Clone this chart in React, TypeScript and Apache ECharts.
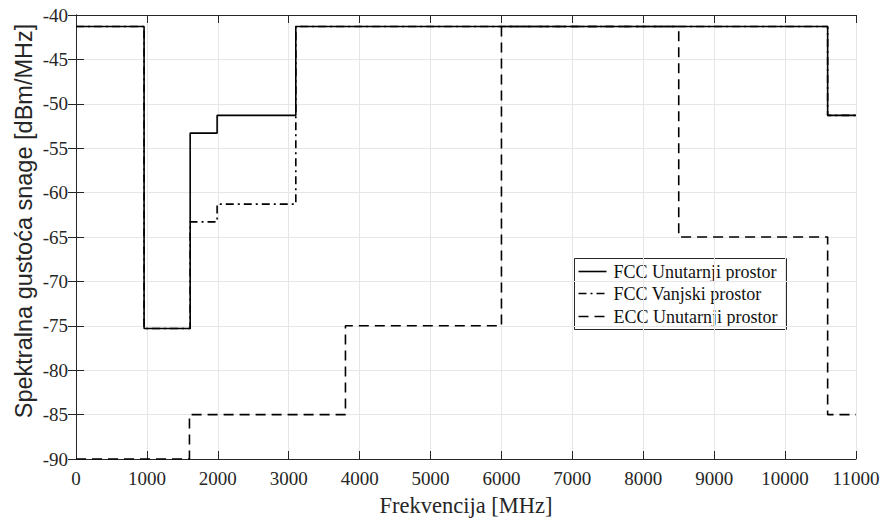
import React, { useEffect, useRef } from "react";
import * as echarts from "echarts";

const fccIndoorX = [0, 960, 1610, 1990, 3100, 10600, 11000];
const fccIndoorY = [-41.3, -75.3, -53.3, -51.3, -41.3, -51.3, -51.3];
const fccOutdoorX = [0, 960, 1610, 1990, 3100, 10600, 11000];
const fccOutdoorY = [-41.3, -75.3, -63.3, -61.3, -41.3, -51.3, -51.3];
const eccIndoorX = [0, 1600, 3800, 6000, 8500, 10600, 11000];
const eccIndoorY = [-90, -85, -75, -41.3, -65, -85, -85];
const seriesNames = ["FCC Unutarnji prostor", "FCC Vanjski prostor", "ECC Unutarnji prostor"];
const xAxisTitle = "Frekvencija [MHz]";
const yAxisTitle = "Spektralna gustoća snage [dBm/MHz]";
const dashes: (number[] | null)[] = [null, [8, 4, 2, 4], [10, 6]];

const pairs = (xs: number[], ys: number[]) => xs.map((x, i) => [x, ys[i]]);

export default function App() {
  const ref = useRef<HTMLDivElement>(null);
  useEffect(() => {
    const chart = echarts.init(ref.current!, null, { renderer: "svg" });
    const axisColor = "#262626";
    const serif = "'Liberation Serif', 'Times New Roman', serif";
    const sans = "'Liberation Sans', Arial, sans-serif";
    const commonX = {
      type: "value",
      min: 0,
      max: 11000,
      interval: 1000,
      axisLine: { show: true, lineStyle: { color: axisColor, width: 1 } },
      axisTick: { show: true, inside: true, length: 8, lineStyle: { color: axisColor } },
      splitLine: { show: false },
    };
    const commonY = {
      type: "value",
      min: -90,
      max: -40,
      interval: 5,
      axisLine: { show: true, lineStyle: { color: axisColor, width: 1 } },
      axisTick: { show: true, inside: true, length: 8, lineStyle: { color: axisColor } },
      splitLine: { show: false },
    };

    // legend drawn with graphic elements
    const legendLeft = 574;
    const legendTop = 258;
    const rowYs = [13, 35, 58];
    const legendChildren: any[] = [
      {
        type: "rect",
        shape: { x: 0, y: 0, width: 212, height: 71 },
        style: { fill: "#ffffff", stroke: "#262626", lineWidth: 1 },
      },
    ];
    seriesNames.forEach((n, i) => {
      legendChildren.push({
        type: "line",
        shape: { x1: 4, y1: rowYs[i], x2: 32, y2: rowYs[i] },
        style: { stroke: "#000", lineWidth: 1.6, lineDash: dashes[i] || undefined },
      });
      legendChildren.push({
        type: "text",
        x: 39,
        y: rowYs[i],
        style: {
          text: n,
          fontFamily: serif,
          fontSize: 18,
          fill: "#111",
          verticalAlign: "middle",
          align: "left",
        },
      });
    });

    chart.setOption({
      animation: false,
      backgroundColor: "#ffffff",
      grid: { left: 76, right: 28, top: 15, bottom: 61 },
      xAxis: [
        {
          ...commonX,
          position: "bottom",
          name: xAxisTitle,
          nameLocation: "middle",
          nameGap: 35,
          nameTextStyle: { fontFamily: serif, fontSize: 22.5, color: "#262626" },
          axisLabel: {
            fontFamily: serif,
            fontSize: 19,
            color: "#262626",
            margin: 10,
            formatter: (v: number) => String(v),
          },
          splitLine: { show: true, lineStyle: { color: "#e6e6e6", width: 1 } },
        },
        { ...commonX, position: "top", axisLabel: { show: false } },
      ],
      yAxis: [
        {
          ...commonY,
          position: "left",
          axisLabel: {
            fontFamily: serif,
            fontSize: 19,
            color: "#262626",
            margin: 8,
            formatter: (v: number) => String(v),
          },
          splitLine: { show: true, lineStyle: { color: "#e6e6e6", width: 1 } },
        },
        { ...commonY, position: "right", axisLabel: { show: false } },
      ],
      graphic: [
        {
          type: "text",
          x: 24,
          y: 221,
          rotation: Math.PI / 2,
          style: {
            text: yAxisTitle,
            fontFamily: sans,
            fontSize: 23.5,
            fill: "#262626",
            align: "center",
            verticalAlign: "middle",
          },
        },
        { type: "group", left: legendLeft, top: legendTop, children: legendChildren },
      ],
      series: [
        {
          name: seriesNames[0],
          type: "line",
          step: "end",
          symbol: "none",
          data: pairs(fccIndoorX, fccIndoorY),
          lineStyle: { color: "#000", width: 1.6, type: "solid" },
          z: 3,
        },
        {
          name: seriesNames[1],
          type: "line",
          step: "end",
          symbol: "none",
          data: pairs(fccOutdoorX, fccOutdoorY),
          lineStyle: { color: "#000", width: 1.6, type: dashes[1] },
          z: 2,
        },
        {
          name: seriesNames[2],
          type: "line",
          step: "end",
          symbol: "none",
          data: pairs(eccIndoorX, eccIndoorY),
          lineStyle: { color: "#000", width: 1.6, type: dashes[2] },
          z: 1,
        },
      ],
    });
    return () => chart.dispose();
  }, []);
  return (
    <div
      ref={ref}
      style={{ position: "fixed", left: 0, top: 0, width: 884, height: 522, background: "#fff" }}
    />
  );
}
